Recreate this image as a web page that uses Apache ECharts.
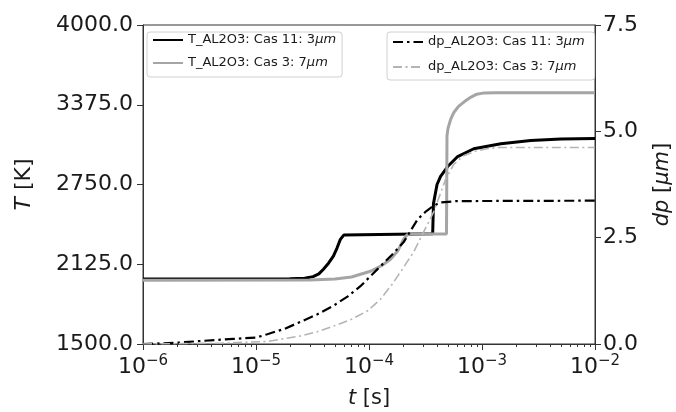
<!DOCTYPE html>
<html><head><meta charset="utf-8">
<script src="https://cdn.jsdelivr.net/npm/echarts@6/dist/echarts.min.js"></script>
<style>html,body{margin:0;padding:0;background:#fff}#c{width:676px;height:412px}</style>
</head><body><div id="c"></div>
<script>
// ---- tick labels ----
const tTicks = [1500, 2125, 2750, 3375, 4000];
const dpTicks = [0, 2.5, 5, 7.5];
const xMajorTicks = [1e-6, 1e-5, 1e-4, 1e-3, 1e-2];
const xMinorTicks = [2e-6,3e-6,4e-6,5e-6,6e-6,7e-6,8e-6,9e-6,
  2e-5,3e-5,4e-5,5e-5,6e-5,7e-5,8e-5,9e-5,
  2e-4,3e-4,4e-4,5e-4,6e-4,7e-4,8e-4,9e-4,
  2e-3,3e-3,4e-3,5e-3,6e-3,7e-3,8e-3,9e-3];

// ---- series names ----
const names = ['T_AL2O3: Cas 11: 3μm', 'T_AL2O3: Cas 3: 7μm', 'dp_AL2O3: Cas 11: 3μm', 'dp_AL2O3: Cas 3: 7μm'];

// ---- T, case 11 (3 µm) ----
const tT11 = [1e-6, 2e-5, 2.7e-5, 3.2e-5, 3.6e-5, 3.95e-5, 4.4e-5, 4.84e-5, 5.2e-5, 5.58e-5, 6.0e-5, 6.2e-5,
  3.66e-4, 3.72e-4, 4.0e-4, 4.3e-4, 4.97e-4, 6.09e-4, 8.45e-4, 1.47e-3, 2.7e-3, 5e-3, 1e-2];
const T11 = [2010, 2011, 2016, 2028, 2050, 2086, 2135, 2188, 2250, 2320, 2355, 2365,
  2365, 2600, 2750, 2813, 2891, 2969, 3030, 3070, 3094, 3107, 3110];

// ---- T, case 3 (7 µm) ----
const tT3 = [1e-6, 3e-5, 5e-5, 7e-5, 1.03e-4, 1.3e-4, 1.55e-4, 1.8e-4, 2.02e-4, 2.15e-4, 2.24e-4,
  4.85e-4, 4.9e-4, 5.0e-4, 5.3e-4, 5.61e-4, 6.2e-4, 7e-4, 8e-4, 9e-4, 1.05e-3, 1.3e-3, 1e-2];
const T3 = [2000, 2002, 2010, 2025, 2070, 2115, 2164, 2230, 2320, 2350, 2362,
  2362, 3130, 3190, 3265, 3312, 3362, 3400, 3435, 3458, 3468, 3470, 3470];

// ---- dp, case 11 (3 µm) ----
const tDp11 = [1e-6, 2e-6, 3.2e-6, 6.3e-6, 1e-5, 1.26e-5, 1.8e-5, 2.47e-5, 3.5e-5, 4.84e-5, 6.5e-5, 8.4e-5,
  1.19e-4, 1.6e-4, 2.02e-4, 2.69e-4, 3.2e-4, 3.73e-4, 4.3e-4, 6e-4, 1e-2];
const dp11 = [0.0, 0.03, 0.07, 0.12, 0.15, 0.23, 0.36, 0.52, 0.7, 0.9, 1.12, 1.36,
  1.76, 2.1, 2.39, 2.93, 3.12, 3.25, 3.33, 3.36, 3.37];

// ---- dp, case 3 (7 µm) ----
const tDp3 = [1e-6, 5e-6, 1.26e-5, 2.47e-5, 3.5e-5, 4.84e-5, 7e-5, 9.7e-5, 1.26e-4, 1.6e-4, 2.02e-4, 2.48e-4,
  3e-4, 3.73e-4, 4.76e-4, 5.61e-4, 6.8e-4, 8.45e-4, 1.1e-3, 1.38e-3, 1e-2];
const dp3 = [0.0, 0.02, 0.06, 0.19, 0.29, 0.42, 0.58, 0.78, 1.05, 1.4, 1.8, 2.16,
  2.6, 3.1, 3.87, 4.22, 4.42, 4.52, 4.59, 4.62, 4.62];

const zip = (a, b) => a.map((v, i) => [v, b[i]]);
const FONT = 'DejaVu Sans';
const AX = '#333';
const TXT = '#1a1a1a';

const chart = echarts.init(document.getElementById('c'), null, {renderer: 'canvas'});
const legendBase = {
  orient: 'vertical', itemWidth: 30, itemHeight: 14,
  borderColor: '#d0d0d0', borderWidth: 1, borderRadius: 3, backgroundColor: '#fff',
  itemStyle: {opacity: 0},
  formatter: n => n.replace('μm', '{i|μm}'),
  textStyle: {fontFamily: FONT, fontSize: 13, color: TXT, lineHeight: 14,
    rich: {i: {fontFamily: FONT, fontSize: 13, fontStyle: 'italic', color: TXT}}}
};
chart.setOption({
  animation: false,
  backgroundColor: '#fff',
  grid: {left: 143, right: 81, top: 25, bottom: 68, show: true, borderColor: AX, borderWidth: 1,
    containLabel: false, outerBoundsMode: 'none'},
  legend: [
    Object.assign({}, legendBase, {left: 147, top: 32, itemGap: 9, padding: [1, 6, 7, 5], data: [names[0], names[1]]}),
    Object.assign({}, legendBase, {left: 387, top: 32, itemGap: 11, padding: [3, 10, 6, 5], data: [names[2], names[3]]})
  ],
  xAxis: [{
    type: 'log', logBase: 10, min: 1e-6, max: 1e-2, position: 'bottom',
    name: '{i|t} [s]', nameLocation: 'middle', nameGap: 44,
    nameTextStyle: {fontFamily: FONT, fontSize: 21, color: TXT, rich: {i: {fontFamily: FONT, fontSize: 21, fontStyle: 'italic', color: TXT}}},
    axisLine: {show: true, onZero: false, lineStyle: {color: AX, width: 1}},
    axisTick: {show: true, length: 6, customValues: xMajorTicks, lineStyle: {color: AX}},
    axisLabel: {customValues: xMajorTicks, margin: 10, color: TXT, fontFamily: FONT,
      formatter: v => '{b|10}{s|−' + Math.round(-Math.log10(v)) + '}',
      rich: {b: {fontFamily: FONT, fontSize: 22, color: TXT, lineHeight: 26},
             s: {fontFamily: FONT, fontSize: 15, color: TXT, lineHeight: 12, verticalAlign: 'top'}}},
    splitLine: {show: false}
  }, {
    type: 'log', logBase: 10, min: 1e-6, max: 1e-2, position: 'bottom', gridIndex: 0,
    axisLine: {show: false, onZero: false},
    axisTick: {show: true, length: 3, customValues: xMinorTicks, lineStyle: {color: AX}},
    axisLabel: {show: false},
    splitLine: {show: false}
  }],
  yAxis: [{
    type: 'value', min: 1500, max: 4000, position: 'left',
    name: '{i|T} [K]', nameLocation: 'middle', nameGap: 108, nameRotate: 90,
    nameTextStyle: {fontFamily: FONT, fontSize: 22, color: TXT, rich: {i: {fontFamily: FONT, fontSize: 22, fontStyle: 'italic', color: TXT}}},
    axisLine: {show: true, onZero: false, lineStyle: {color: AX, width: 1}},
    axisTick: {show: true, length: 6, customValues: tTicks, lineStyle: {color: AX}},
    axisLabel: {customValues: tTicks, margin: 10, color: TXT, fontFamily: FONT, fontSize: 22, formatter: v => v.toFixed(1)},
    splitLine: {show: false}
  }, {
    type: 'value', min: 0, max: 7.5, interval: 2.5, position: 'right',
    name: '{i|dp} [{i|μm}]', nameLocation: 'middle', nameGap: 57, nameRotate: 90,
    nameTextStyle: {fontFamily: FONT, fontSize: 21, color: TXT, rich: {i: {fontFamily: FONT, fontSize: 21, fontStyle: 'italic', color: TXT}}},
    axisLine: {show: true, onZero: false, lineStyle: {color: AX, width: 1}},
    axisTick: {show: true, length: 6, customValues: dpTicks, lineStyle: {color: AX}},
    axisLabel: {customValues: dpTicks, margin: 8, color: TXT, fontFamily: FONT, fontSize: 22, formatter: v => v.toFixed(1)},
    splitLine: {show: false}
  }],
  series: [
    {name: names[0], type: 'line', xAxisIndex: 0, yAxisIndex: 0, data: zip(tT11, T11), symbol: 'none', showSymbol: false, z: 2,
      lineStyle: {color: '#000', width: 3}, itemStyle: {color: '#000'}},
    {name: names[1], type: 'line', xAxisIndex: 0, yAxisIndex: 0, data: zip(tT3, T3), symbol: 'none', showSymbol: false, z: 3,
      lineStyle: {color: '#a5a5a5', width: 3}, itemStyle: {color: '#a5a5a5'}},
    {name: names[2], type: 'line', xAxisIndex: 0, yAxisIndex: 1, data: zip(tDp11, dp11), symbol: 'none', showSymbol: false, z: 4,
      lineStyle: {color: '#000', width: 2.2, type: [10, 4, 2.5, 4]}, itemStyle: {color: '#000'}},
    {name: names[3], type: 'line', xAxisIndex: 0, yAxisIndex: 1, data: zip(tDp3, dp3), symbol: 'none', showSymbol: false, z: 5,
      lineStyle: {color: '#b4b4b4', width: 1.6, type: [9, 3.5, 2, 3.5]}, itemStyle: {color: '#b4b4b4'}}
  ]
});
</script></body></html>
